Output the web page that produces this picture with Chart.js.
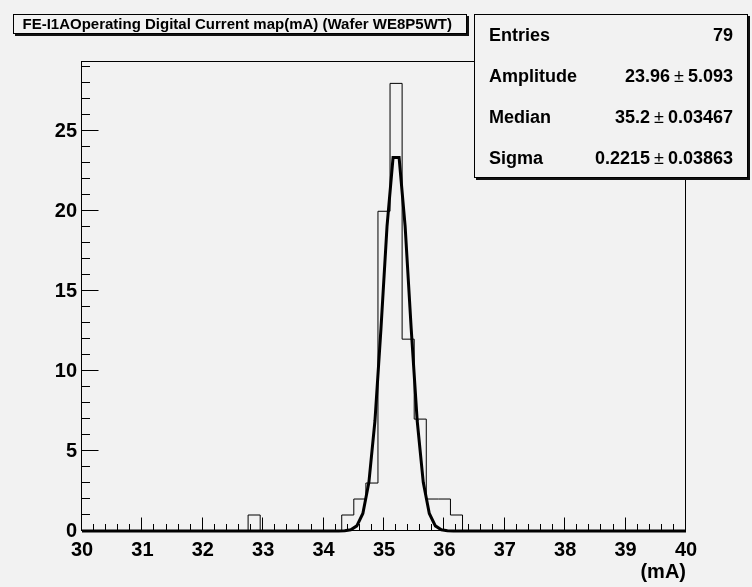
<!DOCTYPE html>
<html><head><meta charset="utf-8">
<script src="https://cdn.jsdelivr.net/npm/chart.js@4.4.0/dist/chart.umd.min.js"></script>
<style>html,body{margin:0;padding:0;background:#f2f2f2;overflow:hidden}#wrap{position:relative;width:752px;height:587px}</style>
</head><body><div id="wrap"><canvas id="c" width="752" height="587"></canvas></div>
<script>
// ---- data ----
const titleText = "FE-I1AOperating Digital Current map(mA) (Wafer WE8P5WT)";
const xAxisTitle = "(mA)";
const binCenters = [32.85, 34.4, 34.6, 34.8, 35.0, 35.2, 35.4, 35.6, 35.8, 36.0, 36.2];
const binCounts  = [1, 1, 2, 3, 20, 28, 12, 7, 2, 2, 1];
const binWidth = 0.2;
const fitX = [30, 34.25, 34.35, 34.45, 34.55, 34.65, 34.75, 34.85, 34.95, 35.05, 35.15, 35.25, 35.35, 35.45, 35.55, 35.65, 35.75, 35.85, 35.95, 36.05, 36.15, 40];
const fitY = [0, 0, 0.02, 0.08, 0.32, 1.10, 3.04, 6.88, 12.67, 19.05, 23.36, 23.36, 19.05, 12.67, 6.88, 3.04, 1.10, 0.32, 0.08, 0.02, 0, 0];
const xTickLabels = [30, 31, 32, 33, 34, 35, 36, 37, 38, 39, 40];
const yTickLabels = [0, 5, 10, 15, 20, 25];
const yMax = 29.4;
const statsLabels = ["Entries", "Amplitude", "Median", "Sigma"];
const statsValues = ["79", "23.96 \u00b1 5.093", "35.2 \u00b1 0.03467", "0.2215 \u00b1 0.03863"];

// ---- build histogram outline ----
const histPts = [{x: xTickLabels[0], y: 0}];
let prevHi = null;
for (let i = 0; i < binCenters.length; i++) {
  const lo = binCenters[i] - binWidth / 2, hi = binCenters[i] + binWidth / 2;
  if (prevHi !== null && Math.abs(lo - prevHi) > 1e-6) histPts.push({x: prevHi, y: 0});
  histPts.push({x: lo, y: binCounts[i]});
  prevHi = hi;
}
histPts.push({x: prevHi, y: 0});
histPts.push({x: xTickLabels[xTickLabels.length - 1], y: 0});
const fitPts = fitX.map((v, i) => ({x: v, y: fitY[i]}));

const FONT = "'Liberation Sans', Arial, Helvetica, sans-serif";
const BG = '#f2f2f2';

const deco = {
  id: 'deco',
  beforeDraw(chart) {
    const ctx = chart.ctx;
    ctx.save(); ctx.fillStyle = BG; ctx.fillRect(0, 0, chart.width, chart.height); ctx.restore();
  },
  beforeDatasetsDraw(chart) {
    const {ctx, chartArea: a, scales: {x, y}} = chart;
    ctx.save();
    ctx.strokeStyle = '#000'; ctx.lineWidth = 1;
    const L = Math.round(a.left) - 0.5, R = Math.round(a.right) - 0.5, T = Math.round(a.top) + 0.5, B = Math.round(a.bottom) - 0.5;
    ctx.strokeRect(L, T, R - L, B - T);
    // x ticks
    const xStep = (xTickLabels[1] - xTickLabels[0]) / 5;
    const nx = Math.round((xTickLabels[xTickLabels.length - 1] - xTickLabels[0]) / xStep);
    ctx.beginPath();
    for (let k = 0; k <= nx; k++) {
      const px = Math.round(x.getPixelForValue(xTickLabels[0] + k * xStep)) - 0.5;
      const len = k % 5 === 0 ? 13 : 6.5;
      ctx.moveTo(px, B); ctx.lineTo(px, B - len);
    }
    // y ticks
    const yStep = (yTickLabels[1] - yTickLabels[0]) / 5;
    for (let k = 0; k * yStep <= yMax; k++) {
      const py = Math.round(y.getPixelForValue(k * yStep)) - 0.5;
      const len = k % 5 === 0 ? 17 : 8.5;
      ctx.moveTo(L, py); ctx.lineTo(L + len, py);
    }
    ctx.stroke();
    ctx.restore();
  },
  afterDraw(chart) {
    const ctx = chart.ctx;
    ctx.save();
    // axis title
    ctx.fillStyle = '#000';
    ctx.font = `bold 20px ${FONT}`;
    ctx.textAlign = 'right'; ctx.textBaseline = 'alphabetic';
    ctx.fillText(xAxisTitle, chart.chartArea.right, 578);
    // boxes
    const box = (bx, by, bw, bh) => {
      ctx.fillStyle = '#111'; ctx.fillRect(bx + 2, by + 2, bw, bh);
      ctx.fillStyle = BG; ctx.fillRect(bx, by, bw, bh);
      ctx.strokeStyle = '#000'; ctx.lineWidth = 1; ctx.strokeRect(bx + 0.5, by + 0.5, bw - 1, bh - 1);
    };
    box(13, 14, 454, 20);
    ctx.fillStyle = '#000'; ctx.textAlign = 'left';
    ctx.font = `bold 15px ${FONT}`;
    ctx.fillText(titleText, 22.5, 28.5);
    box(474, 14, 274, 164);
    const baselines = [40.7, 81.7, 123.3, 164];
    for (let i = 0; i < statsLabels.length; i++) {
      ctx.fillStyle = '#000';
      ctx.textAlign = 'left'; ctx.font = `bold 18px ${FONT}`;
      ctx.fillText(statsLabels[i], 489, baselines[i]);
      const parts = statsValues[i].split('\u00b1');
      let rx = 733;
      ctx.textAlign = 'right';
      if (parts.length === 2) {
        const p1 = parts[1].trim(), p0 = parts[0].trim();
        ctx.font = `bold 18px ${FONT}`;
        ctx.fillText(p1, rx, baselines[i]); rx -= ctx.measureText(p1).width + 4;
        ctx.font = `18px ${FONT}`;
        ctx.fillText('\u00b1', rx, baselines[i]); rx -= ctx.measureText('\u00b1').width + 4;
        ctx.font = `bold 18px ${FONT}`;
        ctx.fillText(p0, rx, baselines[i]);
      } else {
        ctx.font = `bold 18px ${FONT}`;
        ctx.fillText(statsValues[i], rx, baselines[i]);
      }
    }
    ctx.restore();
  }
};

new Chart(document.getElementById('c'), {
  type: 'scatter',
  data: {
    datasets: [
      {label: 'hist', data: histPts, showLine: true, stepped: 'before', borderColor: '#000', borderWidth: 1, pointRadius: 0, fill: false},
      {label: 'fit', data: fitPts, showLine: true, borderColor: '#000', borderWidth: 3, pointRadius: 0, tension: 0, fill: false, clip: false, borderJoinStyle: 'miter'}
    ]
  },
  options: {
    responsive: false, animation: false, devicePixelRatio: 1,
    layout: {padding: {top: 61, right: 66, left: 0, bottom: 0}},
    plugins: {legend: {display: false}, tooltip: {enabled: false}, title: {display: false}},
    scales: {
      x: {
        type: 'linear', min: xTickLabels[0], max: xTickLabels[xTickLabels.length - 1],
        afterBuildTicks: s => { s.ticks = xTickLabels.map(v => ({value: v})); },
        afterFit: s => { s.height = 56; },
        grid: {display: false, drawTicks: false}, border: {display: false},
        ticks: {font: {family: FONT, weight: 'bold', size: 20}, color: '#000', padding: 7, maxRotation: 0, autoSkip: false}
      },
      y: {
        type: 'linear', min: 0, max: yMax,
        afterBuildTicks: s => { s.ticks = yTickLabels.map(v => ({value: v})); },
        afterFit: s => { s.width = 82; },
        grid: {display: false, drawTicks: false}, border: {display: false},
        ticks: {font: {family: FONT, weight: 'bold', size: 20}, color: '#000', padding: 5, autoSkip: false}
      }
    }
  },
  plugins: [deco]
});
</script>
</body></html>
